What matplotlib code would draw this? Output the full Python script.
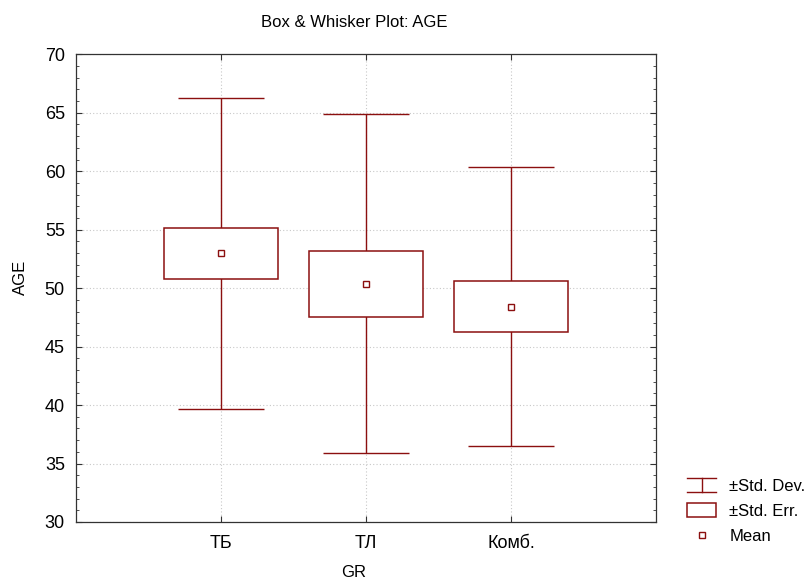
import numpy as np
import matplotlib
matplotlib.use("Agg")
import matplotlib.pyplot as plt
from matplotlib.legend_handler import HandlerBase
from matplotlib.lines import Line2D
from matplotlib.patches import Rectangle
from matplotlib.ticker import MultipleLocator

plt.rcParams['font.family'] = ['Liberation Sans', 'DejaVu Sans']

# ── Data ──────────────────────────────────────────────────────────
groups = ["ТБ", "ТЛ", "Комб."]
means  = [52.98, 50.37, 48.43]
se     = [2.19, 2.80, 2.20]
sd     = [13.32, 14.50, 11.93]

DARK = "#8b0f0f"


class WhiskerHandler(HandlerBase):
    # legend icon: cap / stem / cap
    def create_artists(self, legend, orig, xdescent, ydescent, width, height,
                       fontsize, trans):
        x0, x1 = -xdescent, -xdescent + width
        y0, y1 = -ydescent, -ydescent + height
        xm = (x0 + x1) / 2
        arts = [Line2D([x0, x1], [y1, y1], color=DARK, lw=1.0),
                Line2D([x0, x1], [y0, y0], color=DARK, lw=1.0),
                Line2D([xm, xm], [y0, y1], color=DARK, lw=1.0)]
        for a in arts:
            a.set_transform(trans)
        return arts


fig = plt.figure(figsize=(8.08, 5.8), dpi=100)
ax = fig.add_axes([76/808, 1-522/580, 580/808, 467.7/580])

x = np.arange(1, len(groups) + 1)
m = np.array(means); s_e = np.array(se); s_d = np.array(sd)

ax.errorbar(x, m, yerr=s_d, fmt='none', ecolor=DARK, elinewidth=1.0,
            capsize=31, capthick=1.0, zorder=3)
ax.bar(x, 2*s_e, bottom=m - s_e, width=0.79, facecolor='white',
       edgecolor=DARK, linewidth=1.1, zorder=4)
ax.plot(x, m, linestyle='none', marker='s', markersize=5,
        markerfacecolor='white', markeredgecolor=DARK, markeredgewidth=1.0,
        zorder=5)

ax.set_xlim(0, 4)
ax.set_ylim(30, 70)
ax.set_xticks(x)
ax.set_xticklabels(groups)
ax.yaxis.set_major_locator(MultipleLocator(5))
ax.yaxis.set_minor_locator(MultipleLocator(1))
ax.tick_params(axis='both', which='both', direction='in',
               top=True, right=True, color='#333333')
ax.tick_params(axis='both', which='major', length=4, labelsize=13)
ax.tick_params(axis='y', which='major', pad=8)
ax.tick_params(axis='x', which='major', pad=9)
ax.tick_params(axis='y', which='minor', length=2.5)
ax.grid(True, which='major', linestyle=(0, (1, 2)), color='#c8c8c8',
        linewidth=0.8, zorder=0)
ax.set_axisbelow(True)
for sp in ax.spines.values():
    sp.set_color('#333333')
    sp.set_linewidth(0.9)

ax.set_ylabel("AGE", fontsize=12)
ax.yaxis.set_label_coords(-0.083, 0.522)
ax.set_xlabel("GR", fontsize=12)
ax.xaxis.set_label_coords((354 - 76) / 580, -0.092)

fig.text(354/808, 1 - 22.5/580, "Box & Whisker Plot: AGE", ha='center',
         va='center', fontsize=12)

h_sd = Line2D([], [], color=DARK)
h_se = Rectangle((0, 0), 1, 1, facecolor='white', edgecolor=DARK, linewidth=1.1)
h_mean = Line2D([], [], linestyle='none', marker='s', markersize=5,
                markerfacecolor='white', markeredgecolor=DARK,
                markeredgewidth=1.0)
fig.legend([h_sd, h_se, h_mean], ["±Std. Dev.", "±Std. Err.", "Mean"],
           handler_map={h_sd: WhiskerHandler()},
           loc='upper left', bbox_to_anchor=(687/808, 1 - 478/580),
           frameon=False, fontsize=12, handlelength=1.75, handleheight=0.875,
           handletextpad=0.78, labelspacing=0.58, borderpad=0.0,
           borderaxespad=0.0)

fig.savefig("out.png", dpi=100)
plt.close(fig)
